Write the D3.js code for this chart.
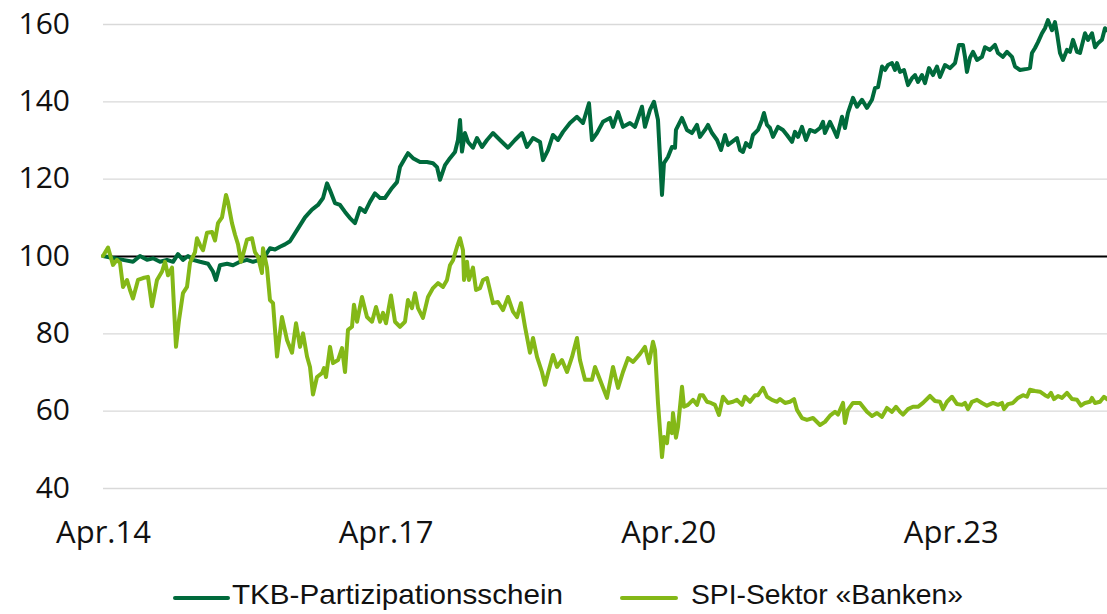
<!DOCTYPE html>
<html><head><meta charset="utf-8">
<script src="https://cdn.jsdelivr.net/npm/d3@7"></script>
<style>
html,body{margin:0;padding:0;background:#fff;}
svg{display:block;}
</style></head><body>
<svg id="chart" width="1107" height="614"></svg>
<script>
// ---- data (x = months since April 2014) ----
const yTicks = [40, 60, 80, 100, 120, 140, 160];
const xTickMonths = [0, 36, 72, 108];
const xTickLabels = ["Apr.14", "Apr.17", "Apr.20", "Apr.23"];
const seriesNames = ["TKB-Partizipationsschein", "SPI-Sektor «Banken»"];

const tkbMonths = [
0,1.27,2.55,3.82,4.71,5.61,6.37,7.26,8.15,8.92,
9.55,10.19,10.83,11.46,12.36,13.38,14.01,14.39,14.90,15.80,
16.56,17.45,18.34,19.11,20.0,20.64,21.27,21.91,22.55,23.18,
23.82,24.71,25.73,26.62,27.39,28.03,28.54,28.92,29.55,30.19,
30.83,31.46,32.10,32.74,33.38,34.01,34.65,35.29,35.92,36.82,
37.45,37.83,38.47,38.85,39.49,40.38,41.27,42.04,42.55,42.93,
43.57,44.20,44.84,45.22,45.48,45.73,46.11,46.50,47.13,47.64,
48.28,48.92,49.68,50.57,51.59,52.48,53.38,54.01,54.78,55.67,
56.05,56.69,57.32,57.96,58.60,59.49,60.38,61.15,61.91,62.29,
62.93,63.69,64.59,64.97,65.61,66.24,67.13,67.77,68.66,69.04,
69.68,70.19,70.70,71.21,71.46,71.97,72.48,72.87,72.99,73.76,
74.39,75.03,75.67,76.05,76.69,77.07,77.58,78.22,78.73,79.24,
79.62,80.13,80.76,81.15,81.53,81.91,82.42,82.80,83.44,83.95,
84.20,84.59,84.97,85.35,85.99,86.62,87.13,87.77,88.15,88.54,
89.04,89.55,90.06,90.70,91.34,91.72,91.97,92.61,92.99,93.50,
94.14,94.52,94.90,95.54,96.05,96.69,97.32,97.96,98.34,98.73,
99.24,99.62,100.0,100.51,100.89,101.15,101.53,102.04,102.55,103.06,
103.44,103.82,104.33,104.71,105.22,105.73,106.24,106.62,107.26,107.90,
108.54,109.04,109.55,109.81,110.06,110.45,110.83,111.34,111.97,112.36,
112.99,113.63,114.01,114.65,115.16,115.80,116.18,116.82,117.71,118.09,
118.34,118.73,119.11,119.62,120.0,120.38,120.89,121.27,121.53,121.91,
122.29,122.80,123.18,123.57,124.08,124.46,125.10,125.48,125.99,126.37,
126.75,127.26,127.64,127.90
];
const tkbValues = [
100,99.5,99,98.5,100,99,99.4,98.5,99,98.5,
100.5,99,100,99,98.5,98,96,93.8,97.6,98,
97.6,98.5,99,98.5,99,100,102,101.7,102.4,103,
103.8,106.7,110,112,113.2,115,118.8,117,113.7,113.2,
111.4,109.8,108.5,112.4,111.4,114,116.2,115,115,117.6,
119.1,123,125.3,126.6,125.3,124.3,124.3,124,123,119.7,
123.5,125.3,126.9,130,135.2,127,131.8,129.5,128,130.5,
128.2,130,131.8,130,128,130,131.8,128.2,130.5,129.5,
124.8,127.4,131.3,130,132.1,134.4,136,134.4,139.5,130,
131.8,134.7,135.7,133.4,137.2,133.4,134.4,133.4,138.6,133.4,
137.8,139.9,135.2,115.8,124,125.6,128.2,128,132.6,135.7,
132.6,131.8,133.9,130.8,132.6,133.9,131.8,130,127.4,131.3,
128.7,129.5,130.5,127.4,126.9,129.2,128.2,131.3,132.6,135.2,
137,133.9,133.1,130.8,133.4,132.6,131.3,129.5,132.1,130.8,
133.4,130,132.6,132.1,133.1,134.7,131.8,134.7,133.1,130.8,
136,133.1,137,140.9,138.6,140.4,138.3,140.4,143.4,143.7,
149,148.1,149.4,149.9,148.1,149.9,147.6,148.1,144.2,146,
146.8,145,146.8,144.7,148.6,146.8,149,146.3,149.4,148.6,
149.9,154.6,154.6,151.5,147.6,151.3,152.8,150.7,151.5,154,
153.3,154.6,152.5,151.5,152.8,151.5,149,148.1,148.4,148.6,
152.5,153.8,155.3,157.6,158.9,161,158.4,160.5,157.6,152.5,
150.7,153.3,152.8,155.9,152.8,152.5,157.6,155.9,157.6,154,
155,155.9,158.9,158.4
];

const spiMonths = [
0,0.64,1.27,1.78,2.17,2.55,3.06,3.44,3.82,4.46,
5.10,5.73,6.24,6.88,7.52,7.90,8.28,8.79,9.30,9.68,
10.19,10.70,11.08,11.72,11.97,12.36,12.74,13.25,13.89,14.27,
14.65,15.16,15.67,15.92,16.43,16.82,17.20,17.58,17.83,18.34,
18.98,19.36,19.75,20.25,20.38,20.89,21.27,21.66,22.17,22.80,
23.44,24.08,24.59,25.10,25.48,25.99,26.37,26.75,27.26,27.90,
28.15,28.41,28.92,29.30,29.94,30.45,30.83,31.21,31.72,31.97,
32.36,32.99,33.63,34.27,34.78,35.29,35.67,36.05,36.69,37.20,
37.83,38.47,38.85,39.36,39.75,40.13,40.76,41.40,42.04,42.68,
43.31,43.82,44.20,44.59,45.10,45.48,45.86,45.99,46.37,46.62,
47.13,47.52,48.03,48.41,48.92,49.68,50.32,50.96,51.59,52.23,
52.74,53.25,53.76,54.39,54.78,55.29,55.92,56.31,56.69,57.32,
57.83,58.47,59.11,59.75,60.38,60.76,61.40,62.29,62.68,63.31,
64.20,64.97,65.61,66.24,66.88,67.52,68.41,69.04,69.55,70.06,
70.32,70.70,71.21,71.46,71.85,72.10,72.48,72.61,72.99,73.25,
73.76,74.01,74.52,75.16,75.67,76.05,76.43,76.94,77.45,77.96,
78.47,78.98,79.62,80.25,80.76,81.40,81.78,82.42,83.06,83.44,
84.08,84.59,85.22,85.86,86.24,86.88,87.52,88.03,88.41,89.04,
89.68,90.45,91.34,91.97,92.61,93.25,93.63,94.27,94.52,94.90,
95.54,96.43,97.32,97.96,98.60,99.24,99.87,100.51,101.02,101.53,
101.91,102.55,103.18,103.82,104.46,105.35,105.99,106.62,107.01,107.52,
108.15,108.79,109.43,109.81,110.19,110.70,111.34,111.97,112.61,113.38,
114.01,114.52,114.78,115.29,115.92,116.56,117.20,117.71,118.09,118.73,
119.36,120.0,120.38,120.76,121.15,121.66,122.17,122.80,123.44,124.08,
124.59,125.10,125.73,125.99,126.37,127.01,127.52,127.90
];
const spiValues = [
100,102.2,97.7,99,98.2,92,93.8,91.2,89,93.8,
94.3,94.6,87,93.8,96,98.5,95,97,76.5,83.4,
90.4,92,98.2,101,104.6,102.8,101.5,106,106.2,104,
108.5,110,115.8,114,108.5,105.5,103,98.5,100.3,104.2,
104.6,101,99.8,95.6,102,97,88.6,87.8,74,84.2,
78.3,75,82.6,76.5,80,74,71.3,64.2,68.7,69.7,
71,68.7,76.5,72.3,73.1,76.2,70,80.9,81.7,87.4,
83,89.4,84.2,83,86.8,83,85.3,82.6,89.8,83,
81.7,83,88.6,86.5,90.4,86.5,84,89.4,91.7,93,
92,93.8,97.6,98.9,102.4,104.6,101.5,93.8,98.5,93.8,
97,91.2,91.7,93.8,94.3,87.8,88.1,86,89.4,85.6,
84.2,87.8,81.7,75,78.8,73.9,70,66.7,69.7,74.4,
71.3,73.1,70,73.9,78.8,73.1,68,68,71.3,68,
63.3,71.3,65.9,70,73.6,72.6,74.7,76.5,72.3,77.8,
75.7,62,48,53.2,51.6,56.8,54.2,59.4,53,55.8,
66.2,61,61.5,62.8,61.5,64,64,62.3,62,61.5,
58.9,63.6,62,62.3,62.8,61.5,63.6,62.3,64,64,
65.9,63.6,62.8,62.3,63,62,62.3,63,60.2,58.1,
57.6,58.1,56.3,57.1,58.7,59.7,59,62,56.8,60.2,
62,62,59.7,58.6,59.4,58.4,60.7,59.7,61,59.7,
59,60.4,61,61,62,63.8,62.5,62.3,60.4,62.3,
63.6,61.7,61.5,62,60.4,62.3,62.8,62,61.3,62,
61.5,62,60.4,61.7,62,63.3,64,63.6,65.4,65.1,
64.9,64,63.6,64.6,63,63.8,63.3,64.6,63,62.8,
61.3,62,62.3,63.3,62,62.3,63.6,63
];

const colors = ["#006A3C", "#84B817"];

// ---- chart ----
const svg = d3.select("#chart");
const W = 1107, H = 614;
const margin = {left: 103, right: 0, top: 24, bottom: 126};
const iw = W - margin.left - margin.right;
const ih = H - margin.top - margin.bottom;

const x = d3.scaleLinear().domain([0, 127.9]).range([margin.left, W - margin.right]);
const y = d3.scaleLinear().domain([40, 160]).range([margin.top + ih, margin.top]);

const tickFont = "'Open Sans', 'Noto Sans', sans-serif";

// y axis with gridlines
const yAxis = svg.append("g")
  .attr("transform", `translate(${margin.left},0)`)
  .call(d3.axisLeft(y).tickValues(yTicks).tickSize(-iw).tickPadding(33));
yAxis.select(".domain").remove();
yAxis.selectAll(".tick line")
  .attr("stroke", d => d === 100 ? "#000" : "#d9d9d9")
  .attr("stroke-width", d => d === 100 ? 2.2 : 1.4);
yAxis.selectAll(".tick text")
  .attr("font-family", tickFont).attr("font-size", 30).attr("fill", "#111")
  .attr("dy", "0.3em");

// x axis labels
const xAxis = svg.append("g")
  .attr("transform", `translate(0,${margin.top + ih})`)
  .call(d3.axisBottom(x).tickValues(xTickMonths)
        .tickFormat((d, i) => xTickLabels[i]).tickSize(0).tickPadding(33));
xAxis.select(".domain").remove();
xAxis.selectAll(".tick text")
  .attr("font-family", tickFont).attr("font-size", 31).attr("fill", "#111");

// bring 100 line above grid
yAxis.selectAll(".tick").filter(d => d === 100).raise();

const line = d3.line().x(d => x(d[0])).y(d => y(d[1]));
const series = [d3.zip(tkbMonths, tkbValues), d3.zip(spiMonths, spiValues)];

series.forEach((s, i) => {
  svg.append("path").datum(s)
    .attr("fill", "none")
    .attr("stroke", colors[i])
    .attr("stroke-width", 4)
    .attr("stroke-linejoin", "round")
    .attr("stroke-linecap", "round")
    .attr("d", line);
});

// legend
const legendFont = "'Liberation Sans', Arial, sans-serif";
const legendItems = [
  {x1: 175, x2: 228, tx: 232, tw: 331},
  {x1: 622, x2: 676, tx: 691, tw: 272}
];
const lg = svg.append("g");
legendItems.forEach((it, i) => {
  lg.append("line").attr("x1", it.x1).attr("x2", it.x2)
    .attr("y1", 598).attr("y2", 598)
    .attr("stroke", colors[i]).attr("stroke-width", 4).attr("stroke-linecap", "round");
  lg.append("text").attr("x", it.tx).attr("y", 604)
    .attr("font-family", legendFont).attr("font-size", 28).attr("fill", "#111")
    .attr("textLength", it.tw).attr("lengthAdjust", "spacingAndGlyphs")
    .text(seriesNames[i]);
});
</script>
</body></html>
